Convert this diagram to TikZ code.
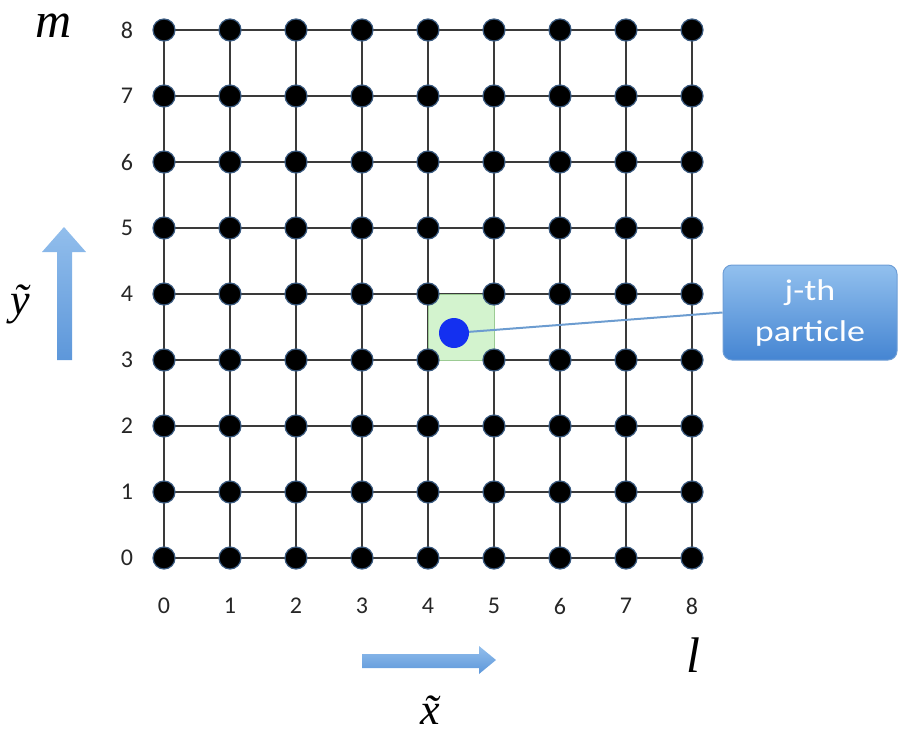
\documentclass[tikz,border=0pt]{standalone}
\usepackage{fontspec}
\setmainfont{Liberation Serif}
\newfontfamily\numfont{Carlito}
\newfontfamily\callfont[FakeStretch=1.2]{Carlito}
\usetikzlibrary{fit}
\definecolor{gridline}{HTML}{3A3A3A}
\definecolor{dotedge}{HTML}{3A5A80}
\definecolor{cellfill}{HTML}{D3F3CE}
\definecolor{celledge}{HTML}{9CCB94}
\definecolor{particle}{HTML}{1430F0}
\definecolor{calltop}{HTML}{92C0EE}
\definecolor{callbot}{HTML}{4585D2}
\definecolor{calledge}{HTML}{6E9ED6}
\definecolor{callline}{HTML}{6C9CD0}
\definecolor{arrlight}{HTML}{92BEEC}
\definecolor{arrdark}{HTML}{5D97DA}
\tikzset{
  gridln/.style={draw=gridline, line width=1.5pt},
  latdot/.style={circle, fill=black, draw=dotedge, line width=1.2pt, minimum size=22pt, inner sep=0pt},
  numlab/.style={font=\numfont\fontsize{24}{24}\selectfont, text=black!85, inner sep=0pt},
  axlab/.style={font=\fontsize{50}{50}\selectfont\itshape, inner sep=0pt, text depth=0pt},
  cellbox/.style={fill=cellfill, draw=celledge, line width=1pt, inner sep=0pt},
  partdot/.style={circle, fill=particle, minimum size=30pt, inner sep=0pt},
  callbox/.style={rectangle, rounded corners=9pt, top color=calltop, bottom color=callbot, draw=calledge, line width=1pt, minimum width=174pt, minimum height=95pt, align=center, text=white, font=\callfont\fontsize{30}{41}\selectfont},
  callconn/.style={draw=callline, line width=2pt},
  bigarrow/.style={top color=arrlight, bottom color=arrdark, draw=none}
}
\begin{document}
\begin{tikzpicture}[x=1pt,y=-1pt]
\useasboundingbox (0,0) rectangle (898,731);
% lattice coordinates
\foreach \i in {0,...,8}{
  \foreach \j in {0,...,8}{
    \coordinate (c-\i-\j) at ({164+66*\i},{558-66*\j});
  }
}
% grid lines
\foreach \k in {0,...,8}{
  \draw[gridln] (c-0-\k) -- (c-8-\k);
  \draw[gridln] (c-\k-0) -- (c-\k-8);
}
% highlighted cell
\node[cellbox, fit=(c-4-3)(c-5-4)] (cell) {};
% lattice dots
\foreach \i in {0,...,8}{
  \foreach \j in {0,...,8}{
    \node[latdot] (d-\i-\j) at (c-\i-\j) {};
  }
}
% axis numbers
\foreach \k in {0,...,8}{
  \node[numlab] (ly-\k) at ([xshift=-37pt]c-0-\k) {\k};
  \node[numlab] (lx-\k) at ([yshift=-48pt]c-\k-0) {\k};
}
% particle and callout
\node[partdot] (part) at (454,333) {};
\node[callbox] (call) at (810,312.5) {j-th\\particle};
\draw[callconn] (part) -- (call.west);
% axis letters
\node[axlab, anchor=base, text height=26pt] (mlab) at (54,37) {m};
\node[axlab, anchor=base, text height=36pt] (llab) at (693,672) {l};
\node[axlab, anchor=base, text height=30pt, font=\fontsize{44}{44}\selectfont\itshape] (ylab) at (20,314) {\~{y}};
\node[axlab, anchor=base, text height=28pt, font=\fontsize{44}{44}\selectfont\itshape] (xlab) at (430,724) {\~{x}};
% direction arrows
\path[bigarrow] (57,360) -- (57,252) -- (42,252) -- (64,227) -- (86,252) -- (72,252) -- (72,360) -- cycle;
\path[bigarrow] (362,654) -- (479,654) -- (479,646) -- (496,660) -- (479,674) -- (479,668) -- (362,668) -- cycle;
\end{tikzpicture}
\end{document}
